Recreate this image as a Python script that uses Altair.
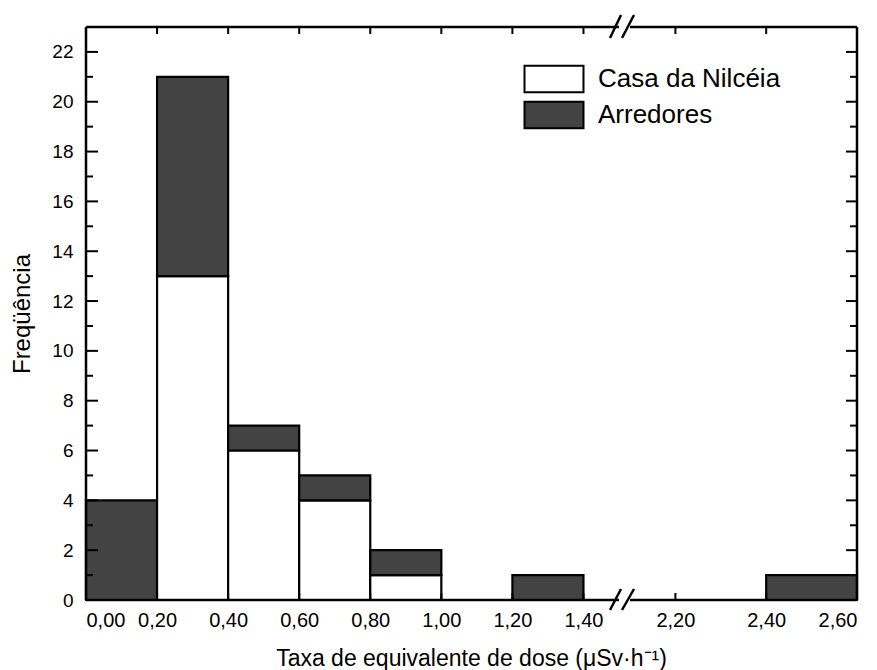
import altair as alt
import pandas as pd

# ---- data ----
bin_start = [0.0, 0.2, 0.4, 0.6, 0.8, 1.0, 1.2, 2.4]
bin_end = [0.2, 0.4, 0.6, 0.8, 1.0, 1.2, 1.4, 2.6]
casa = [0, 13, 6, 4, 1, 0, 0, 0]
arredores = [4, 8, 1, 1, 1, 0, 1, 1]
series = ["Casa da Nilcéia", "Arredores"]
colors = ["white", "#434343"]

y_major = list(range(0, 23, 2))
y_minor = list(range(1, 23, 2))
x_ticks_left = [0.0, 0.2, 0.4, 0.6, 0.8, 1.0, 1.2, 1.4]
x_ticks_right = [2.2, 2.4, 2.6]
left_domain = [0.0, 1.5]
right_domain = [2.1, 2.6]
y_domain = [0, 23]

FONT = "Liberation Sans"
H = 573
WL = 533
WR = 227
SW = 2.5

rows = []
for s, e, c, a in zip(bin_start, bin_end, casa, arredores):
    if c > 0:
        rows.append(dict(start=s, end=e, series=series[0], y0=0, y1=c))
    if a > 0:
        rows.append(dict(start=s, end=e, series=series[1], y0=c, y1=c + a))
bars = pd.DataFrame(rows)
one = pd.DataFrame({"k": [0]})

label_expr = "replace(format(datum.value, '.2f'), '.', ',')"


def rule(x, x2, y, y2=None, w=SW):
    enc = dict(x=alt.value(x), x2=alt.value(x2), y=alt.value(y))
    if y2 is not None:
        enc["y2"] = alt.value(y2)
    return alt.Chart(one).mark_rule(color="black", strokeWidth=w).encode(**enc)


def vrule(x, y, y2, w=SW):
    return alt.Chart(one).mark_rule(color="black", strokeWidth=w).encode(
        x=alt.value(x), y=alt.value(y), y2=alt.value(y2))


def panel(domain, xticks, W, is_left):
    d = bars[(bars.start >= domain[0]) & (bars.end <= domain[1] + 1e-9)]
    xs = alt.Scale(domain=domain, nice=False, zero=False)
    ys = alt.Scale(domain=y_domain, nice=False)
    if is_left:
        xaxis = alt.Axis(values=xticks, labelExpr=label_expr, ticks=False, domain=False,
                         grid=False, labelPadding=10, labelFontSize=20,
                         title="Taxa de equivalente de dose (μSv·h⁻¹)",
                         titleFontSize=23, titleFontWeight="normal",
                         titleX=385, titleY=47, titleAlign="center",
                         titleBaseline="top", titleAnchor="start")
        yaxis = alt.Axis(values=y_major, ticks=False, domain=False, grid=False,
                         labelPadding=13, labelFontSize=19, title="Freqüência",
                         titleFontSize=24, titleFontWeight="normal", titlePadding=17)
        legend = alt.Legend(orient="none", legendX=452, legendY=36, title=None,
                            symbolType="M-2,-0.9L2,-0.9L2,0.9L-2,0.9Z",
                            symbolSize=870, symbolStrokeColor="black",
                            symbolStrokeWidth=2, labelFontSize=26, labelFont=FONT,
                            labelOffset=28, rowPadding=0, padding=0,
                            labelLimit=0, labelColor="black")
    else:
        xaxis = alt.Axis(values=xticks, labelExpr=label_expr, ticks=False, domain=False,
                         grid=False, labelPadding=10, labelFontSize=20, title=None)
        yaxis = None
        legend = None

    bar = alt.Chart(d).mark_rect(stroke="black", strokeWidth=2.2).encode(
        x=alt.X("start:Q", scale=xs, axis=xaxis),
        x2="end:Q",
        y=alt.Y("y0:Q", scale=ys, axis=yaxis),
        y2="y1:Q",
        fill=alt.Fill("series:N", scale=alt.Scale(domain=series, range=colors),
                      legend=legend),
    )

    layers = [bar]
    # y ticks (inward)
    if is_left:
        xa, xb_major, xb_minor = 0, 12, 7
    else:
        xa, xb_major, xb_minor = W, W - 11, W - 7
    layers.append(alt.Chart(pd.DataFrame({"y0": y_major})).mark_rule(
        color="black", strokeWidth=2).encode(
        y=alt.Y("y0:Q", scale=ys, axis=yaxis), x=alt.value(xa), x2=alt.value(xb_major)))
    layers.append(alt.Chart(pd.DataFrame({"y0": y_minor})).mark_rule(
        color="black", strokeWidth=2).encode(
        y=alt.Y("y0:Q", scale=ys, axis=yaxis), x=alt.value(xa), x2=alt.value(xb_minor)))
    # x ticks top and bottom (inward)
    xt = pd.DataFrame({"start": xticks})
    layers.append(alt.Chart(xt).mark_rule(color="black", strokeWidth=2).encode(
        x=alt.X("start:Q", scale=xs, axis=xaxis), y=alt.value(0), y2=alt.value(7)))
    layers.append(alt.Chart(xt).mark_rule(color="black", strokeWidth=2).encode(
        x=alt.X("start:Q", scale=xs, axis=xaxis), y=alt.value(H), y2=alt.value(H - 7)))
    # frame
    layers.append(rule(0, W, 0))
    layers.append(rule(0, W, H))
    if is_left:
        layers.append(vrule(0, 0, H))
        # axis break marks
        for (xa_, xb_) in [(524, 535), (536, 548)]:
            layers.append(rule(xa_, xb_, H + 10, H - 11, w=2.5))
            layers.append(rule(xa_, xb_, 11, -12, w=2.5))
    else:
        layers.append(vrule(W, 0, H))

    return alt.layer(*layers).properties(width=W, height=H)


left = panel(left_domain, x_ticks_left, WL, True)
right = panel(right_domain, x_ticks_right, WR, False)

chart = alt.hconcat(left, right, spacing=11, bounds="flush").properties(
    padding={"left": 10, "top": 13, "right": 18, "bottom": 0}
).configure_view(stroke=None).configure_axis(
    labelFont=FONT, titleFont=FONT, labelColor="black", titleColor="black"
)

chart.save("out.html", embed_options={"renderer": "svg", "actions": False})
